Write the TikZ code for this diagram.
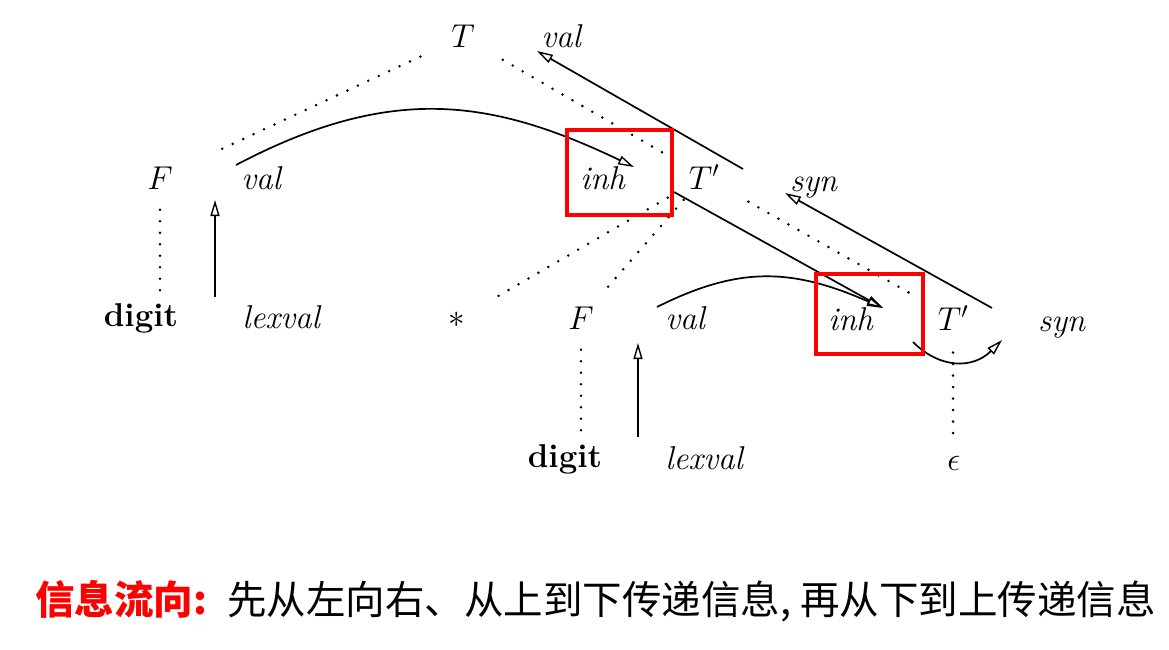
\RequirePackage{fix-cm}
\documentclass[tikz,border=0pt]{standalone}
\usepackage{fontspec}
\newfontfamily\cjk{Noto Sans CJK SC}
\usetikzlibrary{arrows.meta,positioning}
\begin{document}
\begin{tikzpicture}[x=1pt,y=-1pt]
    \tikzset {
        lbl/.style = {inner sep=0pt, anchor=base, font=\fontsize{33}{40}\selectfont},
        tree/.style = {line width=2.8pt, line cap=round, dash pattern=on 0pt off 11.5pt},
        flow/.style = {line width=1.7pt, -{Triangle[open, length=16pt, width=9pt, line width=1.4pt]}},
        hl/.style = {draw=red, line width=3.2pt, inner sep=0pt},
        cjktxt/.style = {inner sep=0pt, font=\cjk\fontsize{39.5}{44}\selectfont}
    }
    \useasboundingbox (0,0) rectangle (1169,650);
    \node[lbl] (T) at (463,48) {$T$};
    \node[lbl] (valT) at (562,48) {\textit{val}};
    \node[lbl] (F1) at (160,189) {$F$};
    \node[lbl] (valF1) at (262,189) {\textit{val}};
    \node[lbl] (inh1) at (603,189) {\textit{inh}};
    \node[lbl] (Tp1) at (704,189) {$T'$};
    \node[lbl] (syn1) at (814,191) {\textit{syn}};
    \node[lbl] (digit1) at (141,326) {\textbf{digit}};
    \node[lbl] (lexval1) at (282,328) {\textit{lexval}};
    \node[lbl, anchor=center] (star) at (457,320) {$*$};
    \node[lbl] (F2) at (581,329) {$F$};
    \node[lbl] (valF2) at (686,329) {\textit{val}};
    \node[lbl] (inh2) at (851,330) {\textit{inh}};
    \node[lbl] (Tp2) at (953,330) {$T'$};
    \node[lbl] (syn2) at (1062,331) {\textit{syn}};
    \node[lbl] (digit2) at (565,467) {\textbf{digit}};
    \node[lbl] (lexval2) at (705,469) {\textit{lexval}};
    \node[lbl] (eps) at (954,470) {$\epsilon$};

    \draw[tree, shorten <=47pt, shorten >=62pt] (T.center) -- (F1.center);
    \draw[tree, shorten <=46pt, shorten >=39pt] (T.center) -- (Tp1.center);
    \draw[tree, shorten <=42pt, shorten >=47pt] (Tp1.center) -- (star.center);
    \draw[tree, shorten <=31pt, shorten >=30pt] (Tp1.center) -- (F2.center);
    \draw[tree, shorten <=51pt, shorten >=40pt] (Tp1.center) -- (Tp2.center);
    \draw[tree, shorten <=32pt, shorten >=7pt] (F1.center) -- (F1.center |- digit1.north);
    \draw[tree, shorten <=32pt, shorten >=9pt] (F2.center) -- (F2.center |- digit2.north);
    \draw[tree, shorten <=35pt, shorten >=18pt] (Tp2.center) -- (Tp2.center |- eps.north);

    \draw[flow] ([shift={(-67,-31)}]lexval1.base) -- ([shift={(-47,11)}]valF1.base);
    \draw[flow] ([shift={(-67,-32)}]lexval2.base) -- ([shift={(-48,14)}]valF2.base);
    \draw[flow] ([shift={(-26,-24)}]valF1.base) .. controls +(154,-81) and +(-144,-69) .. ([shift={(31,-22)}]inh1.base);
    \draw[flow] ([shift={(39,-20)}]Tp1.base) -- ([shift={(-25,3)}]valT.base);
    \draw[flow] ([shift={(71,3)}]inh1.base) -- ([shift={(32,-22)}]inh2.base);
    \draw[flow] ([shift={(39,-22)}]Tp2.base) -- ([shift={(-29,2)}]syn1.base);
    \draw[flow] ([shift={(-29,-22)}]valF2.base) .. controls +(80,-40) and +(-93,-41) .. ([shift={(32,-22)}]inh2.base);
    \draw[flow] ([shift={(62,12)}]inh2.base) .. controls +(27,27) and +(-29,29) .. ([shift={(-60,9)}]syn2.base);

    \node[hl, minimum width=105pt, minimum height=85pt] (box1) at (619.5,172.5) {};
    \node[hl, minimum width=107pt, minimum height=80pt] (box2) at (869.5,314) {};

    \node[cjktxt, text=red, anchor=base west] (flowlbl) at (35,614) {\bfseries 信息流向:};
    \node[cjktxt, base right=20pt of flowlbl] (flowdesc) {先从左向右、从上到下传递信息, 再从下到上传递信息};
\end{tikzpicture}
\end{document}
